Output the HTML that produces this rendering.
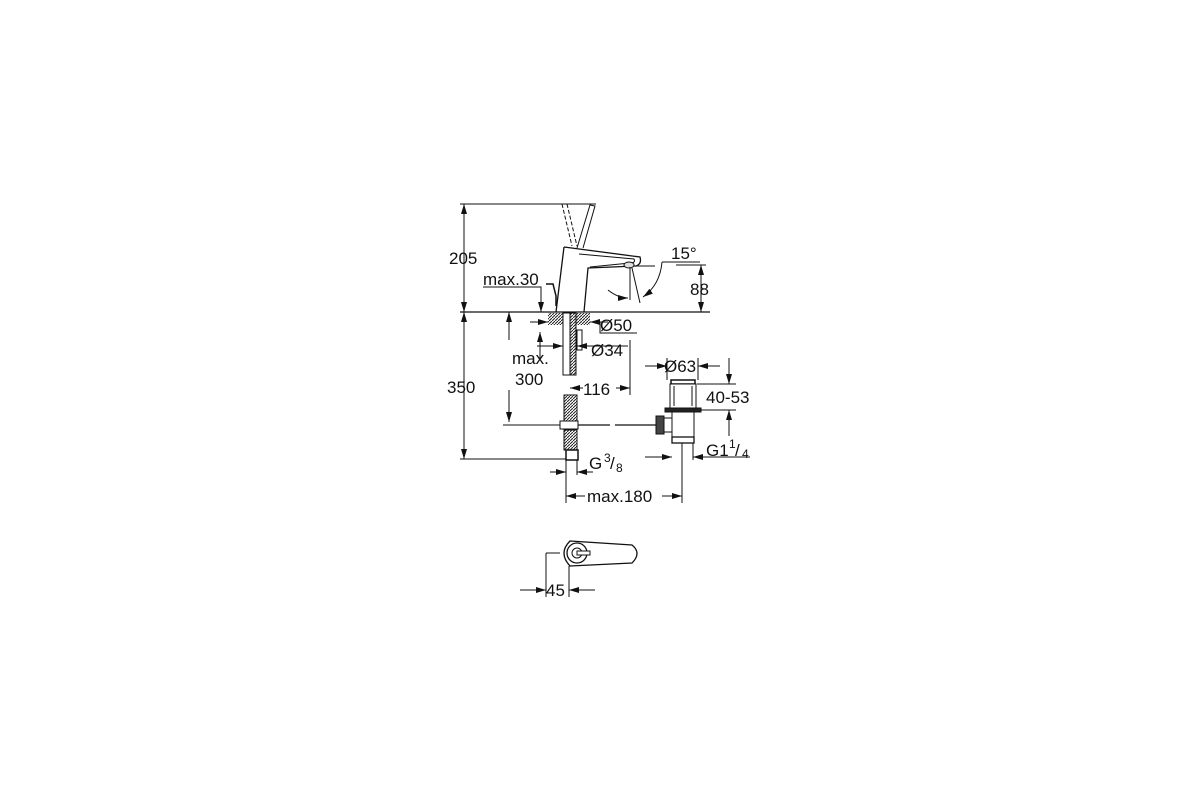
<!DOCTYPE html>
<html><head><meta charset="utf-8"><style>
html,body{margin:0;padding:0;background:#fff;}
svg{display:block;}
text{font-family:"Liberation Sans",sans-serif;fill:#111;}
</style></head><body>
<svg width="1200" height="800" viewBox="0 0 1200 800" xmlns="http://www.w3.org/2000/svg">
<defs>
<marker id="a" viewBox="0 0 10 6" refX="10" refY="3" markerWidth="10" markerHeight="6" orient="auto-start-reverse" markerUnits="userSpaceOnUse"><path d="M0,0 L10,3 L0,6 z" fill="#111"/></marker>
<pattern id="h" width="3" height="3" patternUnits="userSpaceOnUse"><rect width="3" height="3" fill="#fff"/><path d="M0,3 L3,0" stroke="#222" stroke-width="1"/></pattern>
</defs>
<g stroke="#111" stroke-width="1" fill="none">
<line x1="460" y1="204" x2="596" y2="204"/>
<line x1="460" y1="312" x2="710" y2="312" stroke-width="1.3"/>
<line x1="460" y1="459" x2="572" y2="459"/>
<line x1="464" y1="204" x2="464" y2="312" marker-start="url(#a)" marker-end="url(#a)"/>
<line x1="464" y1="312" x2="464" y2="459" marker-start="url(#a)" marker-end="url(#a)"/>
<path d="M562,204 L572,246 M567,204 L577,246" stroke-dasharray="4,2"/>
<path d="M577,248 L590,205 L595,206 L583,248" fill="#fff"/>
<path d="M564,247 L640,257 Q642,264 636,266 L588,268 L584,312 M564,247 L556,312" stroke-width="1.3"/>
<path d="M579,254 L634,259 Q636,263 630,263 L590,267"/>
<ellipse cx="629" cy="265" rx="5" ry="3" fill="#ddd"/>
<line x1="635" y1="266" x2="655" y2="266"/>
<line x1="630" y1="267" x2="630" y2="300"/>
<line x1="632" y1="268" x2="640" y2="303"/>
<path d="M608,290 Q618,298 628,298" marker-end="url(#a)"/>
<path d="M662,262 Q660,285 643,297" marker-end="url(#a)"/>
<line x1="662" y1="262" x2="700" y2="262"/>
<line x1="676" y1="265" x2="706" y2="265"/>
<line x1="701" y1="265" x2="701" y2="312" marker-start="url(#a)" marker-end="url(#a)"/>
<path d="M483,287 L541,287 L541,312" marker-end="url(#a)"/>
<path d="M546,284 L553,284 L556,296 L556,306" stroke-width="1.5"/>
<rect x="548" y="313" width="15" height="12" fill="url(#h)" stroke="none"/>
<rect x="576" y="313" width="14" height="12" fill="url(#h)" stroke="none"/>
<line x1="530" y1="322" x2="548" y2="322" marker-end="url(#a)"/>
<line x1="608" y1="322" x2="590" y2="322" marker-end="url(#a)"/>
<path d="M600,322 L600,333 L637,333"/>
<rect x="563" y="313" width="13" height="62" fill="#fff"/>
<rect x="570" y="313" width="6" height="62" fill="url(#h)"/>
<rect x="577" y="330" width="5" height="20" fill="#fff"/>
<line x1="537" y1="346" x2="563" y2="346" marker-end="url(#a)"/>
<line x1="598" y1="346" x2="577" y2="346" marker-end="url(#a)"/>
<line x1="598" y1="346" x2="628" y2="346"/>
<line x1="540" y1="332" x2="540" y2="360" marker-start="url(#a)"/>
<line x1="509" y1="312" x2="509" y2="340" marker-start="url(#a)"/>
<line x1="509" y1="390" x2="509" y2="422" marker-end="url(#a)"/>
<line x1="503" y1="425" x2="560" y2="425"/>
<line x1="630" y1="340" x2="630" y2="395"/>
<line x1="583" y1="388" x2="570" y2="388" marker-end="url(#a)"/>
<line x1="616" y1="388" x2="630" y2="388" marker-end="url(#a)"/>
<rect x="564" y="395" width="13" height="27" fill="url(#h)"/>
<rect x="564" y="430" width="13" height="20" fill="url(#h)"/>
<rect x="560" y="421" width="18" height="8" fill="#fff"/>
<rect x="566" y="450" width="12" height="10" fill="#fff" stroke-width="1.5"/>
<line x1="578" y1="425" x2="610" y2="425" stroke-width="1.3"/>
<line x1="615" y1="425" x2="656" y2="425" stroke-width="1.3"/>
<line x1="566" y1="460" x2="566" y2="503"/>
<line x1="577" y1="460" x2="577" y2="475"/>
<line x1="550" y1="472" x2="566" y2="472" marker-end="url(#a)"/>
<line x1="593" y1="472" x2="577" y2="472" marker-end="url(#a)"/>
<rect x="671" y="380" width="24" height="4" fill="#fff" stroke-width="1.5"/>
<rect x="670" y="384" width="26" height="24" fill="#fff"/>
<line x1="674" y1="386" x2="674" y2="406"/><line x1="692" y1="386" x2="692" y2="406"/>
<rect x="665" y="408" width="36" height="4" fill="#222"/>
<path d="M672,412 L694,412 L694,437 L672,437 Z" fill="#fff"/>
<rect x="660" y="418" width="12" height="14" fill="#fff"/>
<rect x="656" y="416" width="8" height="18" fill="#444"/>
<rect x="672" y="437" width="22" height="6" fill="#fff" stroke-width="1.3"/>
<line x1="682" y1="443" x2="682" y2="503"/>
<line x1="667" y1="358" x2="667" y2="380"/><line x1="698" y1="358" x2="698" y2="380"/>
<line x1="645" y1="366" x2="667" y2="366" marker-end="url(#a)"/>
<line x1="720" y1="366" x2="698" y2="366" marker-end="url(#a)"/>
<line x1="697" y1="384" x2="736" y2="384"/><line x1="701" y1="410" x2="736" y2="410"/>
<line x1="729" y1="358" x2="729" y2="384" marker-end="url(#a)"/>
<line x1="729" y1="436" x2="729" y2="410" marker-end="url(#a)"/>
<line x1="645" y1="457" x2="672" y2="457" marker-end="url(#a)"/>
<line x1="705" y1="457" x2="693" y2="457" marker-end="url(#a)"/>
<line x1="693" y1="443" x2="693" y2="460"/>
<line x1="705" y1="457" x2="750" y2="457"/>
<line x1="585" y1="496" x2="566" y2="496" marker-end="url(#a)"/>
<line x1="662" y1="496" x2="682" y2="496" marker-end="url(#a)"/>
<path d="M570,541 L632,545 Q642,553 632,563 L570,566 Q558,553 570,541 Z" stroke-width="1.3"/>
<circle cx="577" cy="553" r="10" fill="#fff" stroke-width="1.3"/>
<circle cx="577" cy="553" r="5"/>
<line x1="546" y1="553" x2="560" y2="553"/>
<rect x="577" y="551" width="13" height="4" fill="#fff"/>
<line x1="546" y1="553" x2="546" y2="597"/>
<line x1="569" y1="566" x2="569" y2="597"/>
<line x1="520" y1="590" x2="546" y2="590" marker-end="url(#a)"/>
<line x1="595" y1="590" x2="569" y2="590" marker-end="url(#a)"/>
</g>
<g font-size="17">
<text x="449" y="264">205</text>
<text x="447" y="393">350</text>
<text x="483" y="285">max.30</text>
<text x="671" y="259">15°</text>
<text x="690" y="295">88</text>
<text x="600" y="331">Ø50</text>
<text x="591" y="356">Ø34</text>
<text x="512" y="364">max.</text>
<text x="515" y="385">300</text>
<text x="583" y="395">116</text>
<text x="664" y="372">Ø63</text>
<text x="706" y="403">40-53</text>
<text x="706" y="456">G1</text>
<text x="729" y="448" font-size="12">1</text><text x="735" y="456">/</text><text x="742" y="458" font-size="12">4</text>
<text x="589" y="469">G</text>
<text x="604" y="462" font-size="12">3</text><text x="610" y="469">/</text><text x="616" y="472" font-size="12">8</text>
<text x="587" y="502">max.180</text>
<text x="546" y="596">45</text>
</g>
</svg>
</body></html>
